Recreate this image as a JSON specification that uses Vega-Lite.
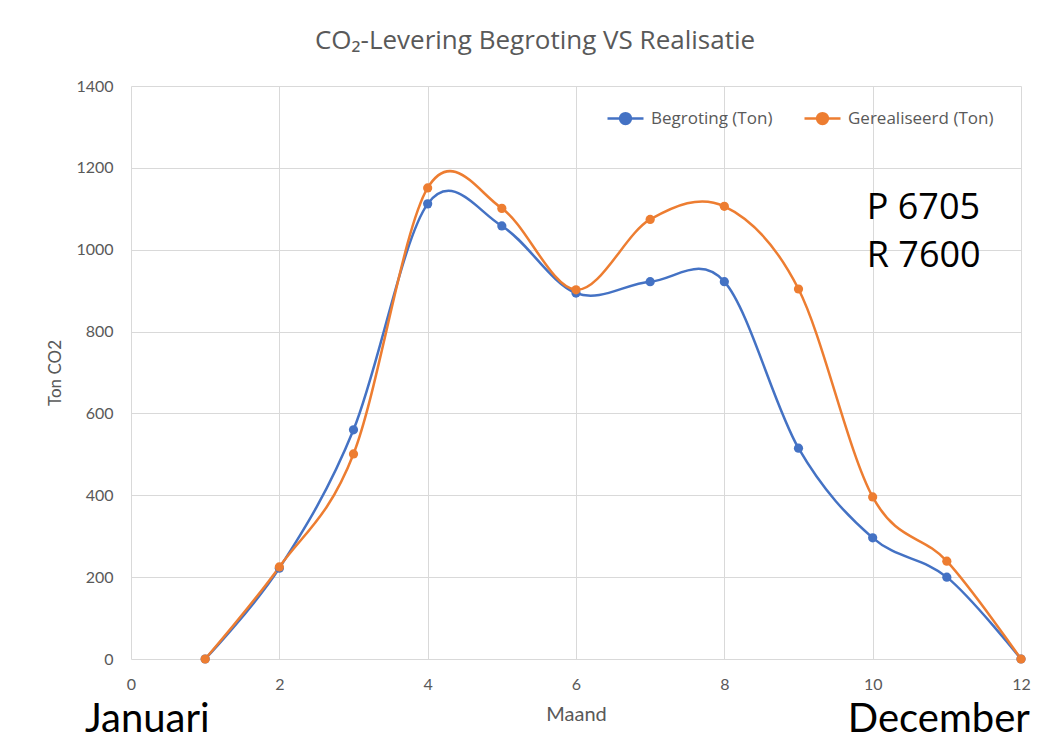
{
  "$schema": "https://vega.github.io/schema/vega-lite/v6.json",
  "width": 890,
  "height": 573,
  "autosize": {"type": "none"},
  "padding": {"left": 131, "top": 86, "right": 32, "bottom": 82},
  "background": "white",
  "title": {
    "text": "CO₂-Levering Begroting VS Realisatie",
    "font": "Open Sans",
    "fontSize": 26,
    "fontWeight": "normal",
    "color": "#595959",
    "anchor": "middle",
    "dx": -41,
    "offset": 24
  },
  "config": {
    "view": {"stroke": null},
    "axis": {
      "labelFont": "Lato",
      "titleFont": "Lato",
      "labelColor": "#595959",
      "titleColor": "#595959",
      "labelFontSize": 16,
      "titleFontSize": 17,
      "titleFontWeight": "normal",
      "gridColor": "#d9d9d9",
      "gridWidth": 1,
      "ticks": false,
      "domain": false
    }
  },
  "datasets": {
    "series": [
      {"maand": 1, "serie": "Begroting (Ton)", "ton": 0},
      {"maand": 2, "serie": "Begroting (Ton)", "ton": 222},
      {"maand": 3, "serie": "Begroting (Ton)", "ton": 560},
      {"maand": 4, "serie": "Begroting (Ton)", "ton": 1112},
      {"maand": 5, "serie": "Begroting (Ton)", "ton": 1058},
      {"maand": 6, "serie": "Begroting (Ton)", "ton": 894},
      {"maand": 7, "serie": "Begroting (Ton)", "ton": 922},
      {"maand": 8, "serie": "Begroting (Ton)", "ton": 922},
      {"maand": 9, "serie": "Begroting (Ton)", "ton": 515},
      {"maand": 10, "serie": "Begroting (Ton)", "ton": 296},
      {"maand": 11, "serie": "Begroting (Ton)", "ton": 200},
      {"maand": 12, "serie": "Begroting (Ton)", "ton": 0},
      {"maand": 1, "serie": "Gerealiseerd (Ton)", "ton": 0},
      {"maand": 2, "serie": "Gerealiseerd (Ton)", "ton": 225},
      {"maand": 3, "serie": "Gerealiseerd (Ton)", "ton": 501},
      {"maand": 4, "serie": "Gerealiseerd (Ton)", "ton": 1151},
      {"maand": 5, "serie": "Gerealiseerd (Ton)", "ton": 1101},
      {"maand": 6, "serie": "Gerealiseerd (Ton)", "ton": 902},
      {"maand": 7, "serie": "Gerealiseerd (Ton)", "ton": 1074},
      {"maand": 8, "serie": "Gerealiseerd (Ton)", "ton": 1106},
      {"maand": 9, "serie": "Gerealiseerd (Ton)", "ton": 904},
      {"maand": 10, "serie": "Gerealiseerd (Ton)", "ton": 396},
      {"maand": 11, "serie": "Gerealiseerd (Ton)", "ton": 239},
      {"maand": 12, "serie": "Gerealiseerd (Ton)", "ton": 0}
    ],
    "notes": [
      {"label": "P 6705"},
      {"label": "R 7600"},
      {"label": "Januari"},
      {"label": "December"}
    ]
  },
  "layer": [
    {
      "data": {"name": "series"},
      "mark": {"type": "line", "interpolate": "cardinal", "strokeWidth": 2.5, "clip": false},
      "encoding": {
        "x": {
          "field": "maand",
          "type": "quantitative",
          "scale": {"domain": [0, 12], "nice": false},
          "axis": {"values": [0, 2, 4, 6, 8, 10, 12], "format": "d", "labelFlush": false, "title": "Maand", "titleFontSize": 20, "labelPadding": 17, "titlePadding": 12, "grid": true}
        },
        "y": {
          "field": "ton",
          "type": "quantitative",
          "scale": {"domain": [0, 1400], "nice": false},
          "axis": {"values": [0, 200, 400, 600, 800, 1000, 1200, 1400], "format": "d", "title": "Ton CO2", "labelPadding": 18, "titlePadding": 11, "grid": true}
        },
        "color": {
          "field": "serie",
          "type": "nominal",
          "scale": {"domain": ["Begroting (Ton)", "Gerealiseerd (Ton)"], "range": ["#4472C4", "#ED7D31"]},
          "legend": {
            "title": null,
            "orient": "none",
            "direction": "horizontal",
            "legendX": 475,
            "legendY": 13,
            "symbolType": "M-1,0L1,0M-0.3,0A0.3,0.3 0 1,1 0.3,0A0.3,0.3 0 1,1 -0.3,0Z",
            "symbolSize": 1296,
            "symbolStrokeWidth": 2.5,
            "labelFont": "Open Sans",
            "labelFontSize": 17,
            "labelColor": "#595959",
            "labelOffset": 6,
            "columnPadding": 26,
            "encode": {"symbols": {"update": {"fill": {"scale": "color", "field": "value"}}}}
          }
        }
      }
    },
    {
      "data": {"name": "series"},
      "mark": {"type": "point", "filled": true, "size": 85, "opacity": 1, "clip": false},
      "encoding": {
        "x": {"field": "maand", "type": "quantitative"},
        "y": {"field": "ton", "type": "quantitative"},
        "color": {"field": "serie", "type": "nominal", "legend": null}
      }
    },
    {
      "data": {"name": "notes"},
      "transform": [{"filter": "datum.label === 'P 6705'"}],
      "mark": {"type": "text", "font": "Open Sans", "fontSize": 36, "color": "black", "align": "left", "baseline": "middle"},
      "encoding": {
        "x": {"datum": 9.92},
        "y": {"datum": 1102},
        "text": {"field": "label"}
      }
    },
    {
      "data": {"name": "notes"},
      "transform": [{"filter": "datum.label === 'R 7600'"}],
      "mark": {"type": "text", "font": "Open Sans", "fontSize": 36, "color": "black", "align": "left", "baseline": "middle"},
      "encoding": {
        "x": {"datum": 9.92},
        "y": {"datum": 985},
        "text": {"field": "label"}
      }
    },
    {
      "data": {"name": "notes"},
      "transform": [{"filter": "datum.label === 'Januari'"}],
      "mark": {"type": "text", "font": "Lato", "fontSize": 40, "color": "black", "align": "left", "baseline": "middle", "clip": false},
      "encoding": {
        "x": {"datum": -0.62},
        "y": {"datum": -150},
        "text": {"field": "label"}
      }
    },
    {
      "data": {"name": "notes"},
      "transform": [{"filter": "datum.label === 'December'"}],
      "mark": {"type": "text", "font": "Lato", "fontSize": 40, "color": "black", "align": "right", "baseline": "middle", "clip": false},
      "encoding": {
        "x": {"datum": 12.12},
        "y": {"datum": -150},
        "text": {"field": "label"}
      }
    }
  ]
}
